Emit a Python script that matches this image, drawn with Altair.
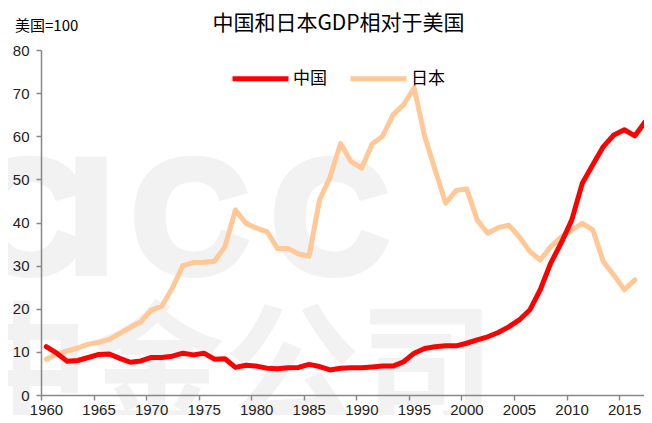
import altair as alt
import pandas as pd

# ---- data ----
years_china = list(range(1960, 2018))
china = [11.2, 9.7, 7.8, 8.0, 8.7, 9.4, 9.5, 8.5, 7.6, 7.9,
         8.7, 8.7, 9.0, 9.7, 9.3, 9.7, 8.3, 8.4, 6.4, 6.9,
         6.7, 6.2, 6.1, 6.3, 6.4, 7.1, 6.6, 5.8, 6.2, 6.3,
         6.3, 6.5, 6.7, 6.7, 7.7, 9.7, 10.8, 11.2, 11.4, 11.4,
         12.0, 12.8, 13.5, 14.5, 15.8, 17.4, 19.7, 24.4, 30.6, 35.3,
         40.6, 49.1, 53.4, 57.6, 60.3, 61.5, 60.1, 63.4]

years_japan = list(range(1960, 2017))
japan = [8.3, 9.5, 10.2, 10.9, 11.8, 12.2, 12.9, 14.3, 15.7, 17.0,
         19.7, 20.6, 24.8, 30.0, 30.7, 30.8, 31.0, 34.4, 42.9, 39.8,
         38.7, 37.9, 34.0, 34.0, 32.7, 32.2, 45.2, 50.5, 58.3, 54.1,
         52.6, 58.2, 60.0, 65.0, 67.3, 71.2, 60.0, 52.2, 44.5, 47.4,
         47.8, 40.6, 37.5, 38.8, 39.4, 36.7, 33.3, 31.3, 34.4, 36.6,
         38.3, 39.8, 38.3, 30.9, 27.8, 24.4, 26.7]

series_names = ["中国", "日本"]
series_colors = ["#FF0000", "#FFC896"]
x_ticks = list(range(1960, 2016, 5))
y_ticks = list(range(0, 81, 10))
title_text = "中国和日本GDP相对于美国"
unit_text = "美国=100"

df = pd.concat([
    pd.DataFrame({"year": years_japan, "value": japan, "series": series_names[1]}),
    pd.DataFrame({"year": years_china, "value": china, "series": series_names[0]}),
], ignore_index=True)

CJK = "Noto Sans CJK SC"
LAT = "Liberation Sans"
WM = "#F2F2F2"

# ---- faint watermark ----
wm_latin = alt.Chart(alt.Data(values=[
    {"ch": "C", "px": -15}, {"ch": "I", "px": 50}, {"ch": "C", "px": 149}, {"ch": "C", "px": 289}
])).mark_text(font=LAT, fontWeight="bold", fontSize=162, color=WM, stroke=WM,
              strokeWidth=8, align="center", baseline="alphabetic").encode(
    x=alt.X("px:Q", scale=None), y=alt.value(222), text="ch:N")

wm_cjk = alt.Chart(alt.Data(values=[
    {"ch": "中", "px": -19}, {"ch": "金", "px": 116}, {"ch": "公", "px": 251}, {"ch": "司", "px": 386}
])).mark_text(font=CJK, fontWeight="bold", fontSize=135, color=WM,
              align="center", baseline="alphabetic").encode(
    x=alt.X("px:Q", scale=None), y=alt.value(366), text="ch:N")

# ---- data lines ----
lines = alt.Chart(df).transform_calculate(
    xpos="datum.year + 0.5"
).mark_line(strokeWidth=5, strokeCap="round", strokeJoin="round").encode(
    x=alt.X("xpos:Q",
            scale=alt.Scale(domain=[1960, 2017.37], nice=False, zero=False),
            axis=alt.Axis(values=x_ticks, format="d", labelOffset=5, title=None,
                          grid=False, tickSize=5, labelPadding=2, labelFlush=False,
                          labelOverlap=False, zindex=1)),
    y=alt.Y("value:Q",
            scale=alt.Scale(domain=[0, 80], nice=False),
            axis=alt.Axis(values=y_ticks, title=None, grid=False, tickSize=5,
                          labelPadding=7, zindex=1)),
    color=alt.Color("series:N",
                    scale=alt.Scale(domain=series_names, range=series_colors),
                    legend=alt.Legend(orient="none", legendX=189, legendY=-2,
                                      direction="horizontal", title=None,
                                      symbolType="stroke", symbolSize=3136,
                                      symbolStrokeWidth=5, labelFont=CJK,
                                      labelFontSize=17, labelColor="#000",
                                      labelOffset=2, columnPadding=13)),
)

title = alt.Chart(alt.Data(values=[{"t": title_text}])).mark_text(
    font=CJK, fontSize=21, color="#000", align="center", baseline="middle"
).encode(x=alt.value(297.5), y=alt.value(-26), text="t:N")

unit = alt.Chart(alt.Data(values=[{"t": unit_text}])).mark_text(
    font=CJK, fontSize=15, color="#000", align="left", baseline="middle"
).encode(x=alt.value(-26), y=alt.value(-24), text="t:N")

chart = alt.layer(wm_latin, wm_cjk, lines, title, unit).properties(
    width=603, height=345,
    padding={"left": 33, "top": 42, "right": 0, "bottom": 20},
    autosize="none",
    background="white",
).configure_view(stroke=None).configure_axis(
    domainColor="#888888", tickColor="#888888", domainWidth=1.5, tickWidth=1.5,
    labelFont=LAT, labelFontSize=15, labelColor="#222222"
)

chart.save("out.html", embed_options={"renderer": "svg", "actions": False})
